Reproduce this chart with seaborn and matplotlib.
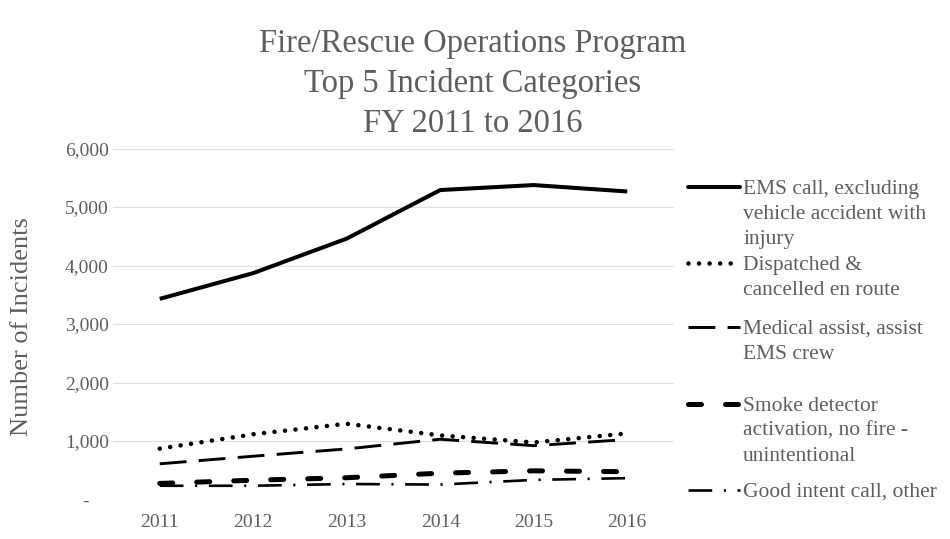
import matplotlib
matplotlib.use("Agg")
import matplotlib.pyplot as plt
from matplotlib.lines import Line2D
from matplotlib.ticker import FuncFormatter
import seaborn as sns
import pandas as pd

# ---- data -------------------------------------------------------------
years = [2011, 2012, 2013, 2014, 2015, 2016]
categories = [
    "EMS call, excluding vehicle accident with injury",
    "Dispatched & cancelled en route",
    "Medical assist, assist EMS crew",
    "Smoke detector activation, no fire - unintentional",
    "Good intent call, other",
]
ems_call = [3430, 3870, 4460, 5290, 5375, 5265]
dispatched_cancelled = [870, 1115, 1295, 1095, 975, 1130]
medical_assist = [610, 740, 865, 1030, 920, 1025]
smoke_detector = [275, 330, 372, 450, 490, 475]
good_intent = [235, 235, 265, 255, 335, 365]

legend_lines = [
    ["EMS call, excluding", "vehicle accident with", "injury"],
    ["Dispatched &", "cancelled en route"],
    ["Medical assist, assist", "EMS crew"],
    ["Smoke detector", "activation, no fire -", "unintentional"],
    ["Good intent call, other"],
]
title_lines = ["Fire/Rescue Operations Program", "Top 5 Incident Categories", "FY 2011 to 2016"]
y_ticks = [0, 1000, 2000, 3000, 4000, 5000, 6000]

series = [ems_call, dispatched_cancelled, medical_assist, smoke_detector, good_intent]
df = pd.DataFrame(
    [(y, c, v) for c, vals in zip(categories, series) for y, v in zip(years, vals)],
    columns=["Year", "Category", "Incidents"],
)

# ---- styling ----------------------------------------------------------
sns.set_theme(style="white")
plt.rcParams["font.family"] = ["Liberation Serif", "DejaVu Serif"]
TEXT = "#5f5f5f"

widths = dict(zip(categories, [2.9, 3.3, 2.1, 3.6, 1.9]))
dash_styles = dict(zip(categories, [
    "",
    (0.001, 2.3),
    (9.2, 4.2),
    (2.6, 4.8),
    (9.0, 4.4, 0.8, 4.4),
]))
capstyles = dict(zip(categories, ["butt", "round", "butt", "round", "butt"]))
palette = {c: "black" for c in categories}

W, H = 950, 539
fig = plt.figure(figsize=(W / 100, H / 100), dpi=100)
fx = lambda px: px / W
fy = lambda py: 1 - py / H

ax = fig.add_axes([fx(113), fy(499.5), fx(674 - 113), (499.5 - 148.5) / H])

sns.lineplot(
    data=df, x="Year", y="Incidents",
    hue="Category", style="Category", size="Category",
    hue_order=categories, style_order=categories, size_order=categories,
    palette=palette, dashes=dash_styles, sizes=widths,
    legend=False, ax=ax, sort=False,
)
for line, cat in zip(ax.lines, categories):
    line.set_dash_capstyle(capstyles[cat])
    line.set_solid_capstyle("butt")

ax.set_xlim(2010.5, 2016.5)
ax.set_ylim(0, 6000)
ax.set_xticks(years)
ax.set_xticklabels([str(y) for y in years])
ax.set_yticks(y_ticks)
ax.yaxis.set_major_formatter(FuncFormatter(lambda v, p: "-    " if v == 0 else f"{int(v):,}"))
ax.grid(axis="y", color="#dedede", linewidth=0.8)
ax.grid(axis="x", visible=False)
for s in ax.spines.values():
    s.set_visible(False)
ax.tick_params(axis="x", length=0, pad=10.5, labelsize=14, labelcolor=TEXT)
ax.tick_params(axis="y", length=0, pad=3, labelsize=14, labelcolor=TEXT)
ax.set_xlabel("")
ax.set_ylabel("")

# axis title
fig.text(fx(22), fy(327), "Number of Incidents", rotation=90, ha="center", va="center",
         fontsize=19, color=TEXT)

# chart title
for i, t in enumerate(title_lines):
    fig.text(fx(473), fy(52 + 40 * i), t, ha="center", va="baseline", fontsize=23.5, color=TEXT)

# legend on the right
entry_y = [187, 263, 327, 404, 490]
for cat, lines_txt, yc in zip(categories, legend_lines, entry_y):
    h = Line2D([fx(688), fx(740)], [fy(yc), fy(yc)], transform=fig.transFigure,
               color="black", linewidth=widths[cat])
    if dash_styles[cat]:
        h.set_dashes(dash_styles[cat])
    h.set_dash_capstyle(capstyles[cat])
    fig.add_artist(h)
    for j, t in enumerate(lines_txt):
        fig.text(fx(743), fy(yc + 7 + 25 * j), t, ha="left", va="baseline",
                 fontsize=15.5, color=TEXT)

fig.savefig("out.png", dpi=100, facecolor="white")
